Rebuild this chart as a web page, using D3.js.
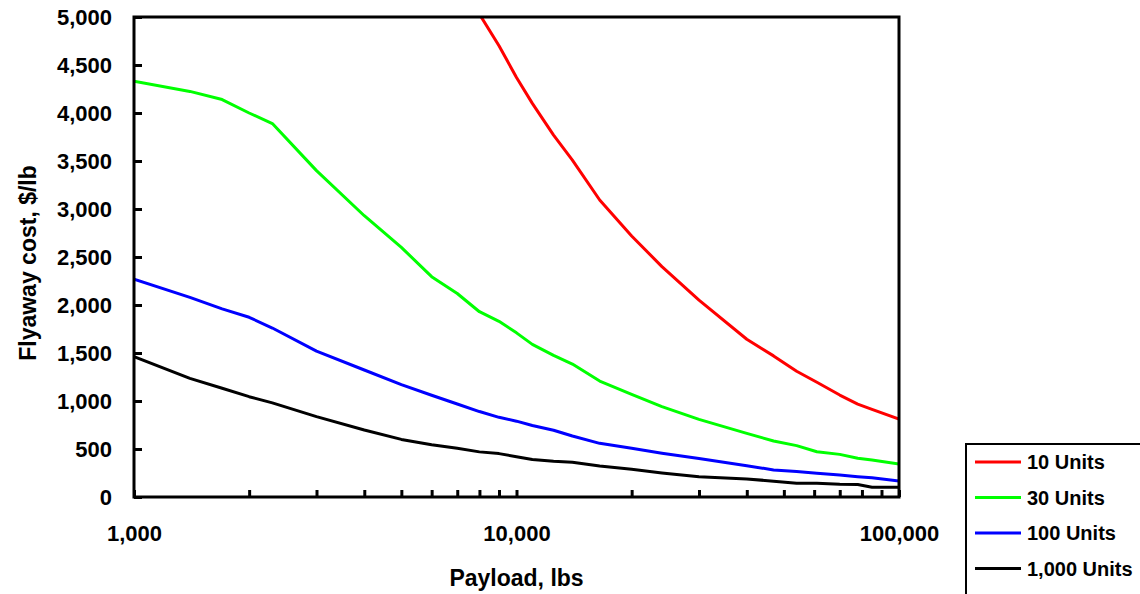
<!DOCTYPE html>
<html lang="en">
<head>
    <meta charset="UTF-8">
    <title>Flyaway cost vs payload</title>
    <script src="https://d3js.org/d3.v7.min.js"></script>
    <style>
        body { margin: 0; background: #fff; }
        svg text { font-family: "Liberation Sans", Arial, sans-serif; font-weight: bold; fill: #000; }
    </style>
</head>
<body>
    <div id="chart"></div>

    <script>
        // Payload points (lbs) shared by all series
        var payload = [1000, 1400, 1700, 2000, 2300, 3000, 4000, 5000, 6000, 7000, 8000, 9000, 10000,
            11000, 12500, 14000, 16500, 20000, 24000, 30000, 40000, 47000, 54000, 61000, 70000,
            78000, 85000, 100000];

        // Flyaway cost, $/lb (null = off the chart)
        var units10 = [null, null, null, null, null, null, null, null, null, null, 5030, 4700, 4370,
            4100, 3770, 3510, 3094, 2719, 2400, 2050, 1643, 1470, 1310, 1195, 1062,
            968, 912, 812];
        var units30 = [4330, 4225, 4140, 4000, 3890, 3400, 2930, 2600, 2295, 2120, 1930, 1830, 1710,
            1590, 1475, 1385, 1208, 1070, 941, 809, 663, 583, 535, 472, 444,
            403, 385, 344];
        var units100 = [2268, 2080, 1960, 1872, 1760, 1520, 1323, 1170, 1060, 969, 890, 830, 790,
            745, 695, 635, 559, 507, 455, 400, 326, 282, 265, 248, 229,
            212, 201, 167];
        var units1000 = [1462, 1236, 1133, 1045, 980, 837, 698, 600, 545, 507, 470, 452, 420,
            390, 373, 363, 323, 288, 250, 211, 188, 165, 142, 142, 132,
            130, 101, 101];

        var seriesNames = ["10 Units", "30 Units", "100 Units", "1,000 Units"];
        var seriesColors = ["#ff0000", "#00ff00", "#0000ff", "#000000"];
        var seriesValues = [units10, units30, units100, units1000];

        var yTicks = [0, 500, 1000, 1500, 2000, 2500, 3000, 3500, 4000, 4500, 5000];
        var xMajor = [1000, 10000, 100000];

        var W = 1140, H = 594;
        var plotL = 134, plotR = 899, plotT = 17, plotB = 497;

        var svg = d3.select("#chart")
            .append("svg")
            .attr("width", W)
            .attr("height", H);

        var x = d3.scaleLog().domain([1000, 100000]).range([plotL, plotR]);
        var y = d3.scaleLinear().domain([0, 5000]).range([plotB, plotT]);

        svg.append("clipPath").attr("id", "plot-clip")
            .append("rect")
            .attr("x", plotL).attr("y", plotT)
            .attr("width", plotR - plotL).attr("height", plotB - plotT);

        // minor + major ticks on the log axis
        var xTickVals = [];
        [1000, 10000].forEach(function(d) {
            for (var k = 1; k < 10; k++) xTickVals.push(d * k);
        });
        xTickVals.push(100000);

        var xAxis = svg.append("g")
            .attr("transform", "translate(0," + plotB + ")")
            .call(d3.axisBottom(x)
                .tickValues(xTickVals)
                .tickSize(-7)
                .tickFormat(function(d) { return xMajor.indexOf(d) >= 0 ? d3.format(",")(d) : ""; }));
        xAxis.select(".domain").remove();
        xAxis.selectAll(".tick line").attr("stroke", "#000").attr("stroke-width", 3);
        xAxis.selectAll(".tick text")
            .attr("y", 44).attr("dy", null)
            .style("font-size", "22px");

        var yAxis = svg.append("g")
            .attr("transform", "translate(" + plotL + ",0)")
            .call(d3.axisLeft(y)
                .tickValues(yTicks)
                .tickSize(-8)
                .tickPadding(22)
                .tickFormat(d3.format(",")));
        yAxis.select(".domain").remove();
        yAxis.selectAll(".tick line").attr("stroke", "#000").attr("stroke-width", 3);
        yAxis.selectAll(".tick text").style("font-size", "22px");

        // series lines
        var line = d3.line()
            .defined(function(d) { return d[1] != null; })
            .x(function(d) { return x(d[0]); })
            .y(function(d) { return y(d[1]); });

        seriesValues.forEach(function(vals, i) {
            var pts = payload.map(function(p, j) { return [p, vals[j]]; });
            svg.append("path")
                .datum(pts)
                .attr("clip-path", "url(#plot-clip)")
                .attr("fill", "none")
                .attr("stroke", seriesColors[i])
                .attr("stroke-width", 3)
                .attr("stroke-linejoin", "round")
                .attr("d", line);
        });

        // plot frame
        svg.append("rect")
            .attr("x", plotL).attr("y", plotT)
            .attr("width", plotR - plotL).attr("height", plotB - plotT)
            .attr("fill", "none")
            .attr("stroke", "#000")
            .attr("stroke-width", 3);

        // axis titles
        svg.append("text")
            .attr("x", (plotL + plotR) / 2)
            .attr("y", 586)
            .attr("text-anchor", "middle")
            .style("font-size", "23px")
            .text("Payload, lbs");

        svg.append("text")
            .attr("transform", "translate(36,263) rotate(-90)")
            .attr("text-anchor", "middle")
            .style("font-size", "23px")
            .text("Flyaway cost, $/lb");

        // legend (runs off the right/bottom edge like the original)
        var legend = svg.append("g").attr("transform", "translate(966,444)");
        legend.append("rect")
            .attr("width", 200).attr("height", 170)
            .attr("fill", "#fff")
            .attr("stroke", "#000")
            .attr("stroke-width", 2);
        seriesNames.forEach(function(name, i) {
            var yy = 18 + i * 35.5;
            legend.append("line")
                .attr("x1", 9).attr("x2", 55)
                .attr("y1", yy).attr("y2", yy)
                .attr("stroke", seriesColors[i])
                .attr("stroke-width", 3);
            legend.append("text")
                .attr("x", 61).attr("y", yy)
                .attr("dy", "0.36em")
                .style("font-size", "20px")
                .text(name);
        });
    </script>
</body>
</html>
